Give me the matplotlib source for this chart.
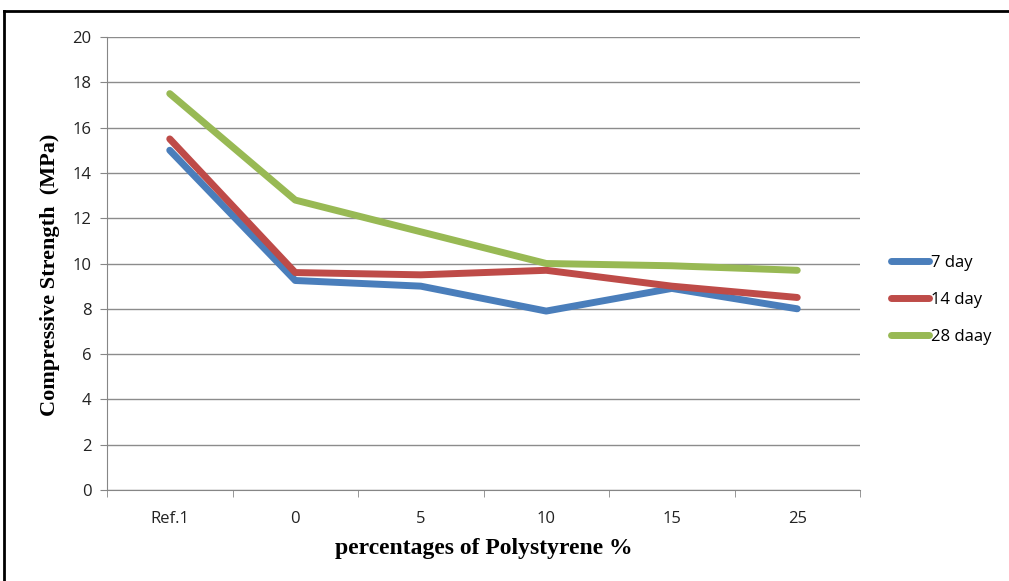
import matplotlib
matplotlib.use("Agg")
import matplotlib.pyplot as plt
from matplotlib.lines import Line2D

categories = ["Ref.1", "0", "5", "10", "15", "25"]
day7 = [15.0, 9.25, 9.0, 7.9, 8.9, 8.0]
day14 = [15.5, 9.6, 9.5, 9.7, 9.0, 8.5]
day28 = [17.5, 12.8, 11.4, 10.0, 9.9, 9.7]
series_labels = ["7 day", "14 day", "28 daay"]
colors = ["#4a7ebb", "#be4b48", "#98b954"]

fig = plt.figure(figsize=(10.09, 5.81), dpi=100)
ax = fig.add_axes([107/1009, 1 - 490/581, 753/1009, 453/581])

x = list(range(len(categories)))
for vals, lab, c in zip([day7, day14, day28], series_labels, colors):
    ax.plot(x, vals, color=c, lw=5, solid_capstyle="round", solid_joinstyle="round", label=lab)

ax.set_xlim(-0.5, len(categories) - 0.5)
ax.set_ylim(0, 20)
ax.set_yticks(range(0, 21, 2))
ax.set_xticks(x)
ax.set_xticklabels(categories)
ax.set_xticks([i - 0.5 for i in range(len(categories) + 1)], minor=True)
ax.tick_params(axis="x", which="major", length=0, pad=15)
ax.tick_params(axis="x", which="minor", length=5, color="#868686")
ax.tick_params(axis="y", length=5, color="#868686", pad=6)
for t in ax.get_xticklabels() + ax.get_yticklabels():
    t.set_fontfamily("Open Sans")
    t.set_fontsize(12)
    t.set_color("#222222")

ax.grid(axis="y", color="#8c8c8c", lw=1)
ax.set_axisbelow(True)
for s in ["top", "right"]:
    ax.spines[s].set_visible(False)
for s in ["left", "bottom"]:
    ax.spines[s].set_color("#868686")

ax.set_xlabel("percentages of Polystyrene %", fontfamily="Liberation Serif",
              fontweight="bold", fontsize=17, labelpad=8)
ax.set_ylabel("Compressive Strength  (MPa)", fontfamily="Liberation Serif",
              fontweight="bold", fontsize=16)
ax.yaxis.set_label_coords(-0.063, 0.475)

handles = [Line2D([], [], color=c, lw=5, solid_capstyle="round") for c in colors]
leg = fig.legend(handles, series_labels, loc="center left", bbox_to_anchor=(876/1009, 1 - 300/581),
                 frameon=False, handlelength=2.3, handletextpad=0.1, labelspacing=1.25,
                 prop={"family": "Open Sans", "size": 12})

# outer frame of the picture
fig.add_artist(plt.Line2D([4/1009, 4/1009], [0, 1 - 11/581], color="black", lw=2, transform=fig.transFigure))
fig.add_artist(plt.Line2D([4/1009, 1], [1 - 11/581, 1 - 11/581], color="black", lw=2, transform=fig.transFigure))

fig.savefig("out.png", dpi=100)
